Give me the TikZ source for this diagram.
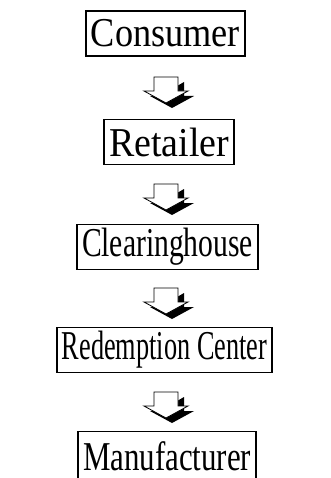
\documentclass[tikz,border=0pt]{standalone}
\usepackage{fontspec}
\usepackage{graphicx}
\setmainfont{Liberation Serif}
\newcommand{\fitw}[2]{\resizebox{#1}{\height}{#2}}
\begin{document}
\begin{tikzpicture}[x=1pt,y=-1pt,
  box/.style={draw,line width=1.3pt,inner xsep=5pt,inner ysep=0pt,minimum height=45pt,
    font=\fontsize{41}{41}\selectfont},
  shadow/.style={fill=black},
  blockarrow/.style={fill=white,draw=black,line width=0.8pt}]
\useasboundingbox (0,0) rectangle (330,478);
\node[box] (consumer) at (165.5,33.5) {\fitw{149pt}{Consumer}};
\node[box] (retailer) at (169,142) {\fitw{120pt}{Retailer}};
\node[box] (clearing) at (167.5,247) {\fitw{171pt}{Clearinghouse}};
\node[box] (redemption) at (164.5,350) {\fitw{205pt}{Redemption Center}};
\node[box,anchor=north,minimum height=52pt] (manufacturer) at (167,431) {\raisebox{3pt}{\fitw{168pt}{Manufacturer}}};
\foreach \n/\t in {a1/77, a2/184, a3/288, a4/392}{
    \coordinate (\n) at (166,\t);
    \fill[shadow] (\n) ++(18,5) -- ++(0,14) -- ++(10,0) -- ++(-22,12) -- ++(-22,-12) -- ++(10,0) -- cycle;
    \draw[blockarrow] (\n) ++(-12,0) -- ++(24,0) -- ++(0,14) -- ++(10,0) -- ++(-22,12) -- ++(-22,-12) -- ++(10,0) -- cycle;
}
\end{tikzpicture}
\end{document}
